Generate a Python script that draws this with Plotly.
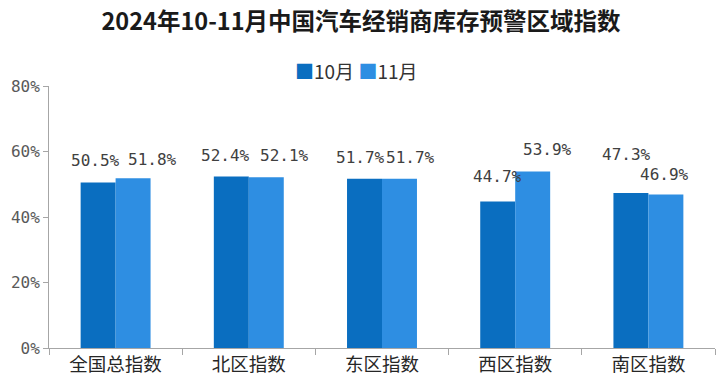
import plotly.graph_objects as go

categories = ["全国总指数", "北区指数", "东区指数", "西区指数", "南区指数"]
oct_values = [50.5, 52.4, 51.7, 44.7, 47.3]
nov_values = [51.8, 52.1, 51.7, 53.9, 46.9]
series_names = ["10月", "11月"]
title_text = "2024年10-11月中国汽车经销商库存预警区域指数"

# label nudges (pixels) relative to the default spot above each bar
oct_dx = [-3, -6, -4, 0, -4]
oct_dy = [1, 0, 0, 4, 18]
nov_dx = [19, 18, 11, 15, -1]
nov_dy = [-2, 1, 0, 1, -1]

C10 = "#0A6EC0"
C11 = "#2E8EE2"
AXIS = "#A6A6A6"
LABEL_FONT = dict(family="DejaVu Sans Mono, monospace", size=16, color="#404040")

fig = go.Figure()
fig.add_bar(x=categories, y=oct_values, name=series_names[0], marker=dict(color=C10, line=dict(width=0)),
            showlegend=False)
fig.add_bar(x=categories, y=nov_values, name=series_names[1], marker=dict(color=C11, line=dict(width=0)),
            showlegend=False)

ann = []
for i, c in enumerate(categories):
    ann.append(dict(x=c, y=oct_values[i], xref="x", yref="y", text=f"{oct_values[i]:.1f}%",
                    showarrow=False, xshift=-17.5 + oct_dx[i], yshift=21 + oct_dy[i],
                    yanchor="middle", xanchor="center", font=LABEL_FONT))
    ann.append(dict(x=c, y=nov_values[i], xref="x", yref="y", text=f"{nov_values[i]:.1f}%",
                    showarrow=False, xshift=17.5 + nov_dx[i], yshift=21 + nov_dy[i],
                    yanchor="middle", xanchor="center", font=LABEL_FONT))

# legend drawn as text: coloured squares followed by series names
legend_text = (f"<span style='color:{C10}'>■</span>{series_names[0]} "
               f"<span style='color:{C11}'>■</span>{series_names[1]}")
ann.append(dict(x=0.4617, y=1.061, xref="paper", yref="paper", text=legend_text, showarrow=False,
                xanchor="center", yanchor="middle",
                font=dict(family="Noto Sans CJK SC", size=19, color="#333333")))

fig.update_layout(
    width=722, height=386,
    margin=dict(l=49, r=7, t=86, b=38, autoexpand=False),
    paper_bgcolor="white", plot_bgcolor="white",
    barmode="group", bargap=0.475, bargroupgap=0,
    showlegend=False,
    title=dict(text=f"<b>{title_text}</b>", x=0.5, xanchor="center", y=1 - 22 / 386, yanchor="middle",
               font=dict(family="Noto Sans CJK SC", size=23.5, color="#1a1a1a")),
    annotations=ann,
    xaxis=dict(type="category", range=[-0.5, 4.5], showline=True, linecolor=AXIS, linewidth=1,
               ticks="outside", tickson="boundaries", ticklen=6, tickcolor=AXIS, automargin=False,
               showgrid=False, tickfont=dict(family="Noto Sans CJK SC", size=18.5, color="#262626")),
    yaxis=dict(range=[0, 80], dtick=20, ticksuffix="%", showline=True, linecolor=AXIS, linewidth=1,
               ticks="outside", ticklen=5, tickcolor=AXIS, showgrid=False, zeroline=False, automargin=False,
               tickfont=dict(family="DejaVu Sans Mono, monospace", size=16, color="#595959")),
)

fig.write_html("out.html", config={"displayModeBar": False},
               post_script="document.body.style.margin='0';")
